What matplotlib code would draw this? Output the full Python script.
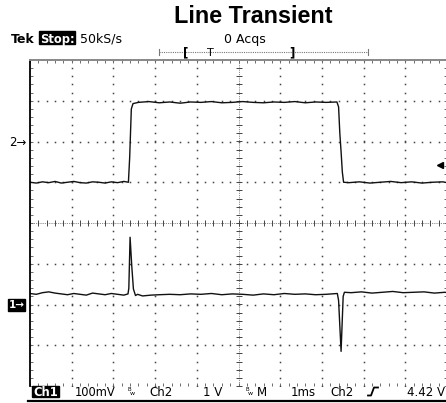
import matplotlib
matplotlib.use("Agg")
import matplotlib.pyplot as plt
import numpy as np
from matplotlib.lines import Line2D
from matplotlib.patches import Rectangle
from matplotlib.ticker import MultipleLocator

# ---- readout / scale settings (as shown on the scope) ----
title = "Line Transient"
ch2_offset_v = 5.0      # ch2 volts at its marker
ch2_pos_div = 2.0       # ch2 marker position (div)
ch1_pos_div = -2.0      # ch1 marker position (div)
ch1_scale_mv = 100.0    # mV/div
trig_level_v = 4.42

# ---- Ch2: input voltage step (V) vs time (ms from left edge) ----
ch2_t = [0.00, 0.15, 0.30, 0.45, 0.60, 0.75, 0.90, 1.05, 1.20, 1.35, 1.50, 1.65, 1.80, 1.95, 2.10, 2.25, 2.36,
         2.39, 2.43, 2.47,
         2.60, 2.85, 3.10, 3.35, 3.60, 3.85, 4.10, 4.35, 4.60, 4.85, 5.10, 5.35, 5.60, 5.85, 6.10, 6.35, 6.60, 6.85, 7.10, 7.36,
         7.40, 7.43, 7.46, 7.49, 7.52,
         7.65, 7.90, 8.15, 8.40, 8.65, 8.90, 9.15, 9.40, 9.65, 9.90, 10.00]
ch2_v = [4.00, 3.98, 4.01, 3.99, 4.02, 3.98, 4.00, 4.02, 3.99, 3.98, 4.01, 4.00, 3.98, 4.01, 3.99, 4.02, 4.00,
         4.60, 5.80, 5.93,
         5.96, 5.98, 5.95, 5.97, 5.94, 5.97, 5.96, 5.98, 5.95, 5.96, 5.98, 5.96, 5.95, 5.97, 5.96, 5.98, 5.95, 5.97, 5.96, 5.97,
         5.85, 5.20, 4.75, 4.25, 4.00,
         3.99, 4.01, 3.98, 4.00, 4.02, 3.99, 4.01, 3.98, 4.00, 4.01, 3.99]

# ---- Ch1: output response (mV) ----
ch1_t = [0.00, 0.15, 0.30, 0.45, 0.60, 0.75, 0.90, 1.05, 1.20, 1.35, 1.50, 1.65, 1.80, 1.95, 2.10, 2.25, 2.35,
         2.37, 2.40, 2.44, 2.48, 2.53, 2.58,
         2.70, 2.90, 3.10, 3.35, 3.60, 3.85, 4.10, 4.35, 4.60, 4.85, 5.10, 5.35, 5.60, 5.85, 6.10, 6.35, 6.60, 6.85, 7.10, 7.37,
         7.40, 7.46, 7.51, 7.54,
         7.70, 7.95, 8.20, 8.45, 8.70, 8.95, 9.20, 9.45, 9.70, 9.95, 10.00]
ch1_v = [27, 25, 29, 31, 28, 26, 24, 27, 25, 23, 28, 26, 24, 27, 25, 23, 26,
         40, 165, 95, 38, 22, 25,
         21, 23, 24, 25, 24, 26, 25, 27, 24, 26, 25, 23, 26, 24, 27, 25, 26, 24, 25, 27,
         10, -115, 20, 30,
         29, 31, 28, 30, 32, 29, 30, 31, 28, 30, 29]

W, H = 446, 403
fig = plt.figure(figsize=(W / 100, H / 100), dpi=100)
ax = fig.add_axes([30 / W, (H - 386) / H, 417 / W, 326 / H])
ax.set_xlim(0, 10)
ax.set_ylim(-4, 4)


def ftext(x, y, s, **kw):
    kw.setdefault("family", "DejaVu Sans")
    return fig.text(x / W, 1 - y / H, s, **kw)


def fbox(x, y, w, h):
    fig.patches.append(Rectangle((x / W, 1 - (y + h) / H), w / W, h / H,
                                 transform=fig.transFigure, color="black"))


def fline(xs, ys, **kw):
    fig.add_artist(Line2D([x / W for x in xs], [1 - y / H for y in ys], **kw))


# ---- graticule ----
fine = np.arange(-4, 4.001, 0.2)
fine_x = np.arange(0, 10.001, 0.2)
for gx in [1, 2, 3, 4, 6, 7, 8, 9]:
    ax.plot([gx] * len(fine), fine, ls="none", marker="s", ms=1.1, mew=0, color="#444")
for gy in [-3, -2, -1, 1, 2, 3]:
    ax.plot(fine_x, [gy] * len(fine_x), ls="none", marker="s", ms=1.1, mew=0, color="#444")
ax.axhline(0, ls=(0, (1, 1.2)), lw=0.6, color="#666")
ax.axvline(5, ls=(0, (1, 1.2)), lw=0.6, color="#666")
ax.plot(fine_x, [0] * len(fine_x), ls="none", marker="|", ms=4, mew=0.7, color="#444")
ax.plot([5] * len(fine), fine, ls="none", marker="_", ms=4, mew=0.7, color="#444")

ax.xaxis.set_major_locator(MultipleLocator(1))
ax.xaxis.set_minor_locator(MultipleLocator(0.2))
ax.yaxis.set_major_locator(MultipleLocator(1))
ax.yaxis.set_minor_locator(MultipleLocator(0.2))
ax.tick_params(which="both", direction="in", top=True, right=True, bottom=True, left=True,
               labelbottom=False, labelleft=False, length=2.5, width=0.6, colors="#555")
ax.spines["left"].set_color("black")
ax.spines["left"].set_linewidth(1.3)
ax.spines["top"].set_color("#888")
ax.spines["top"].set_linewidth(1.4)
ax.spines["right"].set_visible(False)
ax.spines["bottom"].set_visible(False)

# ---- traces ----
ch2_div = [v - ch2_offset_v + ch2_pos_div for v in ch2_v]
ch1_div = [v / ch1_scale_mv + ch1_pos_div for v in ch1_v]
ax.plot(ch2_t, ch2_div, color="#111", lw=1.0)
ax.plot(ch1_t, ch1_div, color="#111", lw=1.0)

# trigger level marker
ax.plot([9.84], [trig_level_v - ch2_offset_v + ch2_pos_div], marker="<", ms=5, color="black",
        clip_on=False)

# ---- title and readouts ----
ftext(253, 23, title, ha="center", va="baseline", fontsize=16.8, fontweight="bold",
      family="Liberation Sans")

ftext(11, 43, "Tek", va="baseline", fontsize=9, fontweight="bold")
fbox(39, 31, 36, 13)
ftext(57, 42.5, "Stop:", ha="center", va="baseline", fontsize=8.3, fontweight="bold", color="white")
ftext(80, 43, "50kS/s", va="baseline", fontsize=9)
ftext(224, 43, "0 Acqs", va="baseline", fontsize=9)

# record position bar
fline([159, 368], [52, 52], color="#777", lw=0.8, ls=(0, (1, 1)))
fline([159, 159], [49, 55], color="#777", lw=0.8)
fline([368, 368], [49, 55], color="#777", lw=0.8)
ftext(186, 56, "[", ha="center", va="baseline", fontsize=8.5, fontweight="bold")
ftext(210, 56, "T", ha="center", va="baseline", fontsize=8)
ftext(292, 56, "]", ha="center", va="baseline", fontsize=8.5, fontweight="bold")

# channel markers
ftext(9, 142, "2\u2192", va="center", fontsize=8.5)
fbox(8, 299, 17, 12)
ftext(16.5, 305, "1\u2192", ha="center", va="center", fontsize=7.5, color="white", fontweight="bold")

# bottom readout
fbox(32, 386, 27, 11)
ftext(45.5, 395.5, "Ch1", ha="center", va="baseline", fontsize=8.3, fontweight="bold", color="white")
ftext(75, 396, "100mV", va="baseline", fontsize=8.3)
ftext(127, 391, "B", va="baseline", fontsize=4)
ftext(130, 395, "w", va="baseline", fontsize=4.5)
ftext(149, 396, "Ch2", va="baseline", fontsize=8.5)
ftext(222, 396, "1 V", ha="right", va="baseline", fontsize=8.5)
ftext(245, 391, "B", va="baseline", fontsize=4)
ftext(248, 395, "w", va="baseline", fontsize=4.5)
ftext(257, 396, "M", va="baseline", fontsize=8.5)
ftext(291, 396, "1ms", va="baseline", fontsize=8.5)
ftext(330, 396, "Ch2", va="baseline", fontsize=8.5)
fline([368, 371, 374, 378], [395.5, 395.5, 387.5, 387.5], color="black", lw=1.3)
ftext(445, 396, "4.42 V", ha="right", va="baseline", fontsize=8.5)
fline([28, 446], [400.7, 400.7], color="black", lw=1.6)

fig.savefig("out.png", dpi=100)
